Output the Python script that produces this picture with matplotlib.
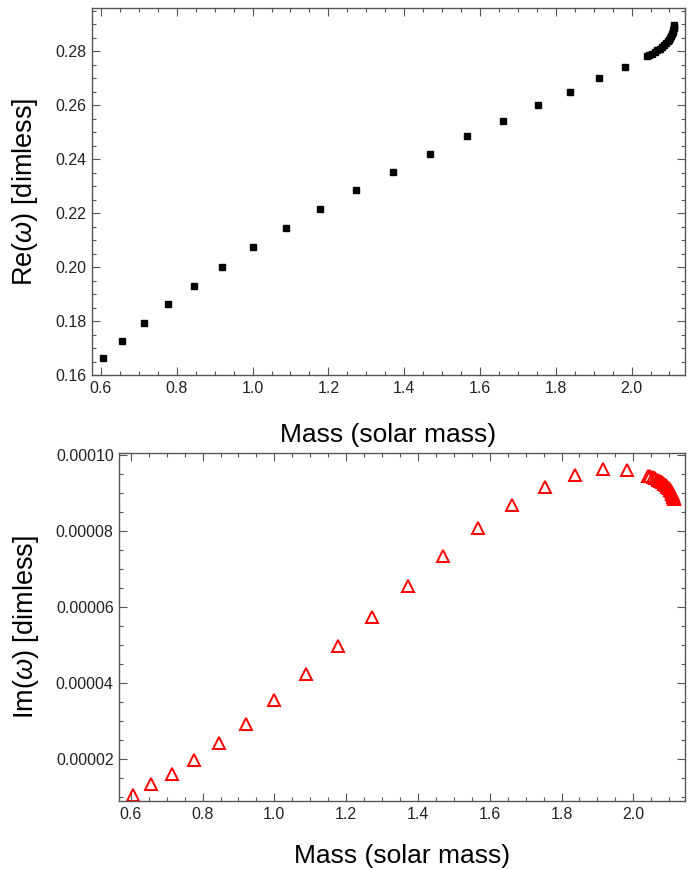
import matplotlib
matplotlib.use("Agg")
import matplotlib.pyplot as plt
import numpy as np
from matplotlib.ticker import MultipleLocator, FormatStrFormatter

plt.rcParams["font.family"] = ["Liberation Sans", "DejaVu Sans"]
plt.rcParams["mathtext.fontset"] = "custom"
plt.rcParams["mathtext.it"] = "Liberation Sans:italic"
plt.rcParams["mathtext.rm"] = "Liberation Sans"

# stellar mass sequence (solar masses), sparse part then dense part near max mass
mass = [0.605, 0.656, 0.714, 0.777, 0.845, 0.920, 1.000, 1.087, 1.177,
        1.272, 1.371, 1.469, 1.566, 1.662, 1.753, 1.838, 1.915, 1.983,
        2.040, 2.047, 2.054, 2.061, 2.068, 2.074, 2.080, 2.086, 2.091,
        2.095, 2.099, 2.102, 2.105, 2.107, 2.109, 2.110, 2.111, 2.112, 2.113]

re_omega = [0.1663, 0.1727, 0.1793, 0.1864, 0.1931, 0.2001, 0.2075, 0.2146, 0.2216,
            0.2287, 0.2354, 0.2420, 0.2484, 0.2543, 0.2599, 0.2650, 0.2699, 0.2743,
            0.2781, 0.2786, 0.2791, 0.2797, 0.2803, 0.2809, 0.2815, 0.2822, 0.2829,
            0.2836, 0.2843, 0.2850, 0.2857, 0.2864, 0.2871, 0.2878, 0.2885, 0.2891, 0.2896]

im_omega = [1.061e-5, 1.325e-5, 1.607e-5, 1.976e-5, 2.425e-5, 2.926e-5, 3.540e-5, 4.225e-5, 4.964e-5,
            5.742e-5, 6.546e-5, 7.337e-5, 8.075e-5, 8.682e-5, 9.156e-5, 9.481e-5, 9.631e-5, 9.605e-5,
            9.45e-5, 9.43e-5, 9.41e-5, 9.38e-5, 9.35e-5, 9.32e-5, 9.28e-5, 9.24e-5, 9.20e-5,
            9.16e-5, 9.12e-5, 9.08e-5, 9.04e-5, 9.00e-5, 8.96e-5, 8.93e-5, 8.90e-5, 8.87e-5, 8.85e-5]

W, H = 693, 869
fig = plt.figure(figsize=(W / 100, H / 100), dpi=100)


def _frame(ax, xmaj, xmin, ymaj, ymin, yfmt):
	for s in ax.spines.values():
		s.set_color("#555555")
		s.set_linewidth(1.0)
	ax.xaxis.set_major_locator(MultipleLocator(xmaj))
	ax.xaxis.set_minor_locator(MultipleLocator(xmin))
	ax.yaxis.set_major_locator(MultipleLocator(ymaj))
	ax.yaxis.set_minor_locator(MultipleLocator(ymin))
	ax.xaxis.set_major_formatter(FormatStrFormatter("%.1f"))
	ax.yaxis.set_major_formatter(FormatStrFormatter(yfmt))
	ax.tick_params(which="both", direction="in", top=True, right=True, color="#555555",
		labelsize=11.5, labelcolor="#222222", width=0.8)
	ax.tick_params(which="major", length=5.5, pad=4)
	ax.tick_params(which="minor", length=3)


# top panel: real part
ax1 = fig.add_axes([92 / W, 1 - 375 / H, 593 / W, 367 / H])
ax1.plot(mass, re_omega, ls="none", marker="s", ms=5, color="black", mec="black")
ax1.set_xlim(0.5763, 2.141)
ax1.set_ylim(0.16, 0.296)
_frame(ax1, 0.2, 0.05, 0.02, 0.005, "%.2f")
ax1.set_xlabel("Mass (solar mass)", fontsize=19, labelpad=20)
ax1.set_ylabel(r"Re($\omega$) [dimless]", fontsize=19.5, labelpad=11)

# bottom panel: imaginary part
ax2 = fig.add_axes([119.3 / W, 1 - 801 / H, 565.7 / W, 347.7 / H])
ax2.plot(mass, im_omega, ls="none", marker="^", ms=9, mfc="none", mec="#ff0000", mew=1.4)
ax2.set_xlim(0.568, 2.144)
ax2.set_ylim(0.0000089, 0.0001004)
_frame(ax2, 0.2, 0.05, 0.00002, 0.000005, "%.5f")
ax2.set_xlabel("Mass (solar mass)", fontsize=19, labelpad=16)
ax2.set_ylabel(r"Im($\omega$) [dimless]", fontsize=19.5, labelpad=11)

fig.savefig("out.png", dpi=100)
